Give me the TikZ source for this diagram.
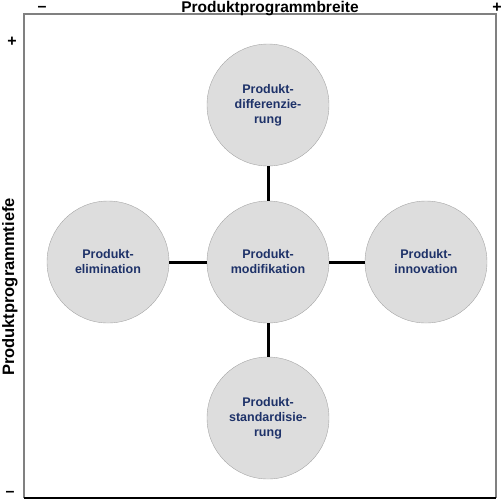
\documentclass[tikz,border=0pt]{standalone}
\usepackage{fontspec}
\setmainfont{Liberation Sans}
\definecolor{textblue}{RGB}{30,50,105}
\definecolor{circlegray}{RGB}{221,221,221}

\begin{document}
\begin{tikzpicture}[x=1pt, y=-1pt]
          \useasboundingbox (0,0) rectangle (503,499);
          % frame
          \draw[gray, line width=1.5pt] (24,498) -- (24,14) -- (496,14) -- (496,498);
          \draw[black, line width=1.5pt] (24,498) -- (496,498);
          % axes
          \node[font=\bfseries\fontsize{15.5}{18}\selectfont, anchor=base, inner sep=0pt] (breite) at (270,12.5) {Produktprogrammbreite};
          \node[font=\bfseries\fontsize{16.5}{18}\selectfont, rotate=90] (tiefe) at (10,287) {Produktprogrammtiefe};
          \node[font=\bfseries\fontsize{16}{18}\selectfont, inner sep=1pt] (minusx) at (42,9) {--};
          \node[font=\bfseries\fontsize{16}{18}\selectfont, inner sep=1pt] (plusx) at (497,8) {+};
          \node[font=\bfseries\fontsize{16}{18}\selectfont] (plusy) at (12,42) {+};
          \node[font=\bfseries\fontsize{16}{18}\selectfont, inner sep=1pt] (minusy) at (10,494) {--};
          \begin{scope}[every node/.style={circle, draw=gray!70, fill=circlegray, minimum size=122pt, inner sep=0pt, align=center, text=textblue, font=\bfseries\fontsize{12.5}{15}\selectfont}]
          \node (mod) at (268,262) {Produkt-\\modifikation};
          \node (diff) at (268,105) {Produkt-\\differenzie-\\rung};
          \node (elim) at (108,262) {Produkt-\\elimination};
          \node (inno) at (426,262) {Produkt-\\innovation};
          \node (stand) at (268,418) {Produkt-\\standardisie-\\rung};
          \end{scope}
          \draw[line width=3pt] (diff)--(mod)--(stand);
          \draw[line width=3pt] (elim)--(mod)--(inno);
          \end{tikzpicture}
\end{document}
